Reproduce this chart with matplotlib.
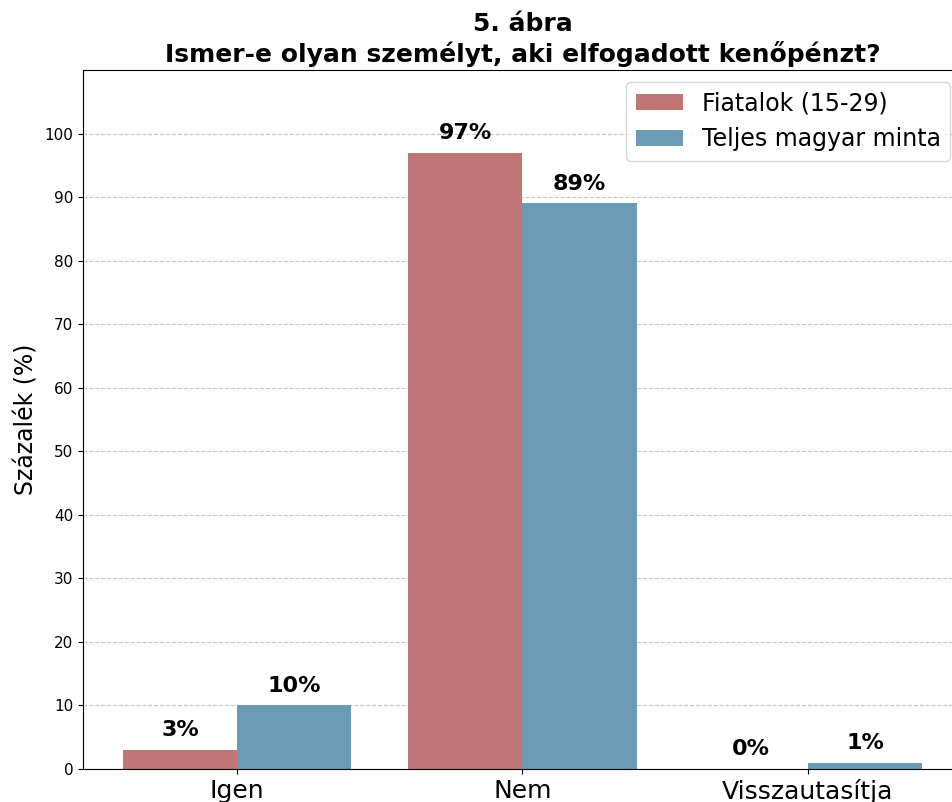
import numpy as np
from matplotlib import pyplot as plt

# data
CATEGORIES = ["Igen", "Nem", "Visszautasítja"]
YOUTH = [3, 97, 0]
FULL_SAMPLE = [10, 89, 1]
SERIES_NAMES = ["Fiatalok (15-29)", "Teljes magyar minta"]
COLORS = ["#c07676", "#6a9ab4"]
WIDTH = 0.4

fig = plt.figure(figsize=(9.53, 8.02), dpi=100)
# axes run a little past the right edge, like the original crop
ax = fig.add_axes([83 / 953, 33 / 802, 879 / 953, 699 / 802])

x = np.arange(len(CATEGORIES))
bars1 = ax.bar(x - WIDTH / 2, YOUTH, WIDTH, color=COLORS[0], label=SERIES_NAMES[0])
bars2 = ax.bar(x + WIDTH / 2, FULL_SAMPLE, WIDTH, color=COLORS[1], label=SERIES_NAMES[1])

for bars in (bars1, bars2):
    for b in bars:
        h = b.get_height()
        ax.text(b.get_x() + b.get_width() / 2, h + 1.5, f"{h:.0f}%",
                ha="center", va="bottom", fontsize=16, fontweight="bold")

ax.set_ylim(0, 110)
ax.set_yticks(range(0, 101, 10))
ax.tick_params(axis="y", labelsize=11)
ax.set_xticks(x)
ax.set_xticklabels(CATEGORIES, fontsize=18)
ax.set_ylabel("Százalék (%)", fontsize=17)
ax.set_title("5. ábra\nIsmer-e olyan személyt, aki elfogadott kenőpénzt?",
             fontsize=18, fontweight="bold")
ax.yaxis.grid(True, linestyle="--", alpha=0.7)
ax.set_axisbelow(True)
ax.legend(loc="upper right", fontsize=17)

fig.savefig("out.png", dpi=100)
